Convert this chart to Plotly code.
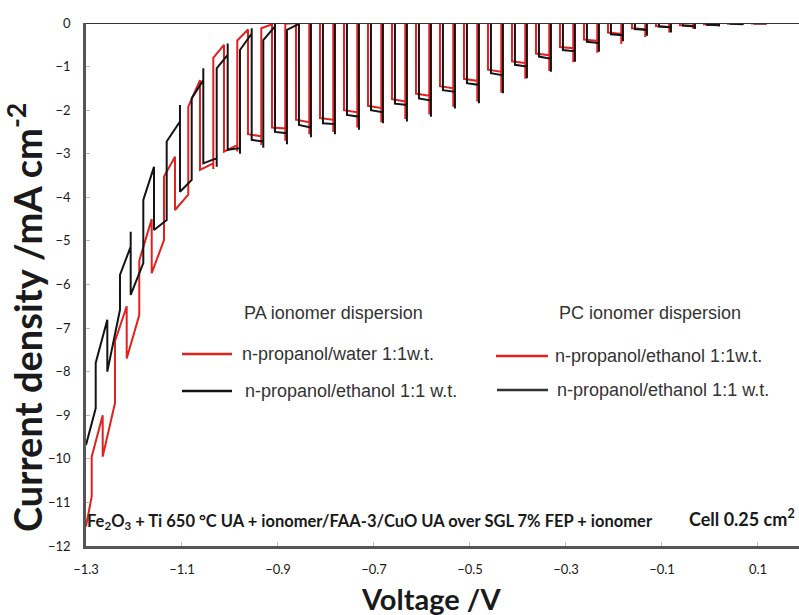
import plotly.graph_objects as go

# ---------------- data ----------------
# Black curve: n-propanol/ethanol 1:1 w.t.
blk_start_v, blk_start_i = -1.30, -9.68
blk_off0_v, blk_off0_le, blk_off0_sp, blk_off0_ds = -1.2798, -8.84, -8.84, -7.80
blk_on_v = [-1.2556, -1.2069, -1.1583, -1.1042, -1.0556, -1.0048, -0.9548, -0.9063, -0.8563, -0.8063,
            -0.7563, -0.7063, -0.6563, -0.6063, -0.5563, -0.5063, -0.4563, -0.4063, -0.3563, -0.3063,
            -0.2563, -0.2063, -0.1563, -0.1063, -0.0563, -0.0063, 0.0438, 0.0938]
blk_off_v = [-1.2292, -1.1806, -1.1319, -1.0798, -1.0277, -0.9792, -0.9306, -0.8813, -0.8313, -0.7813,
             -0.7313, -0.6813, -0.6313, -0.5813, -0.5313, -0.4813, -0.4313, -0.3813, -0.3313, -0.2813,
             -0.2313, -0.1813, -0.1313, -0.0813, -0.0313, 0.0188, 0.0688, 0.1188]
blk_dark_end = [-6.81, -5.13, -3.30, -2.26, -1.31, -0.73, -0.24, -0.08, -0.02, 0, 0, 0, 0, 0, 0, 0, 0, 0, 0, 0,
                0, 0, 0, 0, 0, 0, 0, 0]
blk_dark_spike = [-6.81, -4.79, -3.30, -1.88, -1.04, -0.47, -0.12, -0.02, 0, 0, 0, 0, 0, 0, 0, 0, 0, 0, 0, 0,
                  0, 0, 0, 0, 0, 0, 0, 0]
blk_light_start = [-8.00, -6.24, -4.75, -3.87, -3.22, -2.91, -2.68, -2.50, -2.34, -2.30, -2.11, -2.00, -1.85,
                   -1.73, -1.54, -1.38, -1.15, -0.96, -0.77, -0.62, -0.43, -0.26, -0.14, -0.08, -0.06, -0.04,
                   -0.02, -0.01]
blk_light_end = [-6.58, -5.51, -4.52, -3.60, -3.10, -2.87, -2.72, -2.53, -2.40, -2.32, -2.15, -2.05, -1.88,
                 -1.78, -1.58, -1.42, -1.20, -1.00, -0.82, -0.65, -0.46, -0.28, -0.16, -0.10, -0.08, -0.05,
                 -0.03, -0.01]
blk_light_spike = [-6.58, -5.51, -4.52, -3.60, -3.30, -3.00, -2.86, -2.78, -2.62, -2.55, -2.45, -2.30, -2.26,
                   -2.15, -1.96, -1.84, -1.61, -1.27, -1.12, -0.89, -0.66, -0.42, -0.29, -0.22, -0.14, -0.08,
                   -0.04, -0.02]
blk_dark_start = [-5.78, -4.06, -2.72, -1.73, -1.04, -0.62, -0.39, -0.16, 0, 0, 0, 0, 0, 0, 0, 0, 0, 0, 0, 0,
                  0, 0, 0, 0, 0, 0, 0, 0]
blk_end_v = 0.15

# Red curve: n-propanol/water 1:1 w.t.
red_start_v, red_start_i = -1.30, -11.55
red_off0_v, red_off0_le, red_off0_sp, red_off0_ds = -1.2881, -10.86, -10.86, -9.95
red_on_v = [-1.2652, -1.2152, -1.1631, -1.1146, -1.0625, -1.0125, -0.9625, -0.9125, -0.8625, -0.8125,
            -0.7625, -0.7125, -0.6625, -0.6125, -0.5625, -0.5125, -0.4625, -0.4125, -0.3625, -0.3125,
            -0.2625, -0.2125, -0.1625, -0.1125, -0.0625, -0.0125, 0.0375, 0.0875]
red_off_v = [-1.2396, -1.1890, -1.1375, -1.0869, -1.0348, -0.9848, -0.9348, -0.8848, -0.8348, -0.7848,
             -0.7348, -0.6848, -0.6348, -0.5848, -0.5348, -0.4848, -0.4348, -0.3848, -0.3348, -0.2848,
             -0.2348, -0.1848, -0.1348, -0.0848, -0.0348, 0.0152, 0.0652, 0.1152]
red_dark_end = [-9.00, -6.50, -4.50, -3.07, -1.31, -0.50, -0.15, -0.03, 0, 0, 0, 0, 0, 0, 0, 0, 0, 0, 0, 0,
                0, 0, 0, 0, 0, 0, 0, 0]
red_dark_spike = [-9.00, -6.50, -4.50, -3.07, -1.31, -0.50, -0.15, -0.03, 0, 0, 0, 0, 0, 0, 0, 0, 0, 0, 0, 0,
                  0, 0, 0, 0, 0, 0, 0, 0]
red_light_start = [-9.95, -7.70, -5.74, -4.29, -3.37, -2.95, -2.55, -2.40, -2.22, -2.18, -2.00, -1.90, -1.75,
                   -1.62, -1.45, -1.28, -1.07, -0.88, -0.70, -0.55, -0.38, -0.22, -0.12, -0.07, -0.05, -0.03,
                   -0.02, -0.01]
red_light_end = [-8.72, -6.70, -4.98, -3.94, -3.22, -2.80, -2.60, -2.42, -2.28, -2.22, -2.05, -1.95, -1.80,
                 -1.67, -1.50, -1.33, -1.12, -0.92, -0.74, -0.58, -0.41, -0.25, -0.14, -0.09, -0.06, -0.04,
                 -0.02, -0.01]
red_light_spike = [-8.72, -6.70, -4.98, -3.94, -3.35, -2.95, -2.80, -2.70, -2.55, -2.50, -2.40, -2.28, -2.20,
                   -2.10, -1.92, -1.80, -1.60, -1.28, -1.10, -0.90, -0.68, -0.48, -0.32, -0.22, -0.13, -0.07,
                   -0.03, -0.01]
red_dark_start = [-7.30, -5.45, -3.52, -1.92, -0.80, -0.40, -0.12, -0.02, 0, 0, 0, 0, 0, 0, 0, 0, 0, 0, 0, 0,
                  0, 0, 0, 0, 0, 0, 0, 0]
red_end_v = 0.14

x_ticks = [-1.3, -1.1, -0.9, -0.7, -0.5, -0.3, -0.1, 0.1]
y_ticks = [0, -1, -2, -3, -4, -5, -6, -7, -8, -9, -10, -11, -12]

RED = "#e0221f"
BLACK = "#141414"


def build_path(sv, si, o0v, o0le, o0sp, o0ds, on_v, off_v, de, dsp, ls, le, lsp, ds, end_v):
    xs = [sv, o0v, o0v, o0v]
    ys = [si, o0le, o0sp, o0ds]
    for k in range(len(on_v)):
        xs += [on_v[k], on_v[k], on_v[k], off_v[k], off_v[k], off_v[k]]
        ys += [de[k], dsp[k], ls[k], le[k], lsp[k], ds[k]]
    xs.append(end_v)
    ys.append(0)
    return xs, ys


rx, ry = build_path(red_start_v, red_start_i, red_off0_v, red_off0_le, red_off0_sp, red_off0_ds,
                    red_on_v, red_off_v, red_dark_end, red_dark_spike, red_light_start,
                    red_light_end, red_light_spike, red_dark_start, red_end_v)
bx, by = build_path(blk_start_v, blk_start_i, blk_off0_v, blk_off0_le, blk_off0_sp, blk_off0_ds,
                    blk_on_v, blk_off_v, blk_dark_end, blk_dark_spike, blk_light_start,
                    blk_light_end, blk_light_spike, blk_dark_start, blk_end_v)

fig = go.Figure()
fig.add_trace(go.Scatter(x=rx, y=ry, mode="lines", line=dict(color=RED, width=2),
                         name="n-propanol/water 1:1w.t.", showlegend=False))
fig.add_trace(go.Scatter(x=bx, y=by, mode="lines", line=dict(color=BLACK, width=2),
                         name="n-propanol/ethanol 1:1 w.t.", showlegend=False))

# ---------------- layout ----------------
FW, FH = 799, 615
L, T, W, H = 86, 23, 713, 523


def px2x(p):
    return (p - L) / W


def py2y(p):
    return (T + H - p) / H


bold_font = "Lato, 'Open Sans', sans-serif"
leg_font = dict(family="'Liberation Sans', Arial, sans-serif", size=18, color="#333333")

annotations = [
    dict(text="<b>Voltage /V</b>", x=px2x(431), y=py2y(598), xref="paper", yref="paper",
         showarrow=False, font=dict(family=bold_font, size=29, color="#1a1a1a"),
         xanchor="center", yanchor="middle"),
    dict(text="<b>Current density /mA cm<sup>-2</sup></b>", x=px2x(25), y=py2y(318), xref="paper",
         yref="paper", showarrow=False, textangle=-90,
         font=dict(family=bold_font, size=38, color="#1a1a1a"), xanchor="center", yanchor="middle"),
    dict(text="PA ionomer dispersion", x=px2x(242), y=py2y(313), xref="paper", yref="paper",
         showarrow=False, font=leg_font, xanchor="left", yanchor="middle"),
    dict(text="PC ionomer dispersion", x=px2x(557), y=py2y(313), xref="paper", yref="paper",
         showarrow=False, font=leg_font, xanchor="left", yanchor="middle"),
    dict(text="n-propanol/water 1:1w.t.", x=px2x(240), y=py2y(354), xref="paper", yref="paper",
         showarrow=False, font=leg_font, xanchor="left", yanchor="middle"),
    dict(text="n-propanol/ethanol 1:1 w.t.", x=px2x(243), y=py2y(391), xref="paper", yref="paper",
         showarrow=False, font=leg_font, xanchor="left", yanchor="middle"),
    dict(text="n-propanol/ethanol 1:1w.t.", x=px2x(553), y=py2y(356), xref="paper", yref="paper",
         showarrow=False, font=leg_font, xanchor="left", yanchor="middle"),
    dict(text="n-propanol/ethanol 1:1 w.t.", x=px2x(555), y=py2y(390), xref="paper", yref="paper",
         showarrow=False, font=leg_font, xanchor="left", yanchor="middle"),
    dict(text="<b>Fe<sub>2</sub>O<sub>3</sub> + Ti 650 °C UA + ionomer/FAA-3/CuO UA over SGL 7% FEP + ionomer</b>",
         x=px2x(85), y=py2y(521), xref="paper", yref="paper", showarrow=False,
         font=dict(family=bold_font, size=16.5, color="#1a1a1a"), xanchor="left", yanchor="middle"),
    dict(text="<b>Cell 0.25 cm<sup>2</sup></b>", x=px2x(797), y=py2y(518), xref="paper", yref="paper",
         showarrow=False, font=dict(family=bold_font, size=18, color="#1a1a1a"),
         xanchor="right", yanchor="middle"),
]

shapes = [
    dict(type="line", xref="paper", yref="y", x0=0, x1=1, y0=0, y1=0,
         line=dict(color="#333333", width=2)),
    dict(type="line", xref="paper", yref="paper", x0=px2x(182), x1=px2x(232), y0=py2y(354), y1=py2y(354),
         line=dict(color=RED, width=2.5)),
    dict(type="line", xref="paper", yref="paper", x0=px2x(182), x1=px2x(232), y0=py2y(391), y1=py2y(391),
         line=dict(color=BLACK, width=2.5)),
    dict(type="line", xref="paper", yref="paper", x0=px2x(496), x1=px2x(548), y0=py2y(356), y1=py2y(356),
         line=dict(color=RED, width=2.5)),
    dict(type="line", xref="paper", yref="paper", x0=px2x(497), x1=px2x(548), y0=py2y(390), y1=py2y(390),
         line=dict(color="#333333", width=2.5)),
]

tick_font = dict(family=bold_font, size=13, color="#1a1a1a")

fig.update_layout(
    width=FW, height=FH,
    margin=dict(l=L, r=FW - L - W, t=T, b=FH - T - H),
    paper_bgcolor="white", plot_bgcolor="white",
    showlegend=False,
    annotations=annotations,
    shapes=shapes,
    xaxis=dict(range=[-1.3, 0.1855], tickvals=x_ticks, tickformat=".1f", ticks="inside", ticklen=4,
               tickcolor="#bbbbbb", showline=True, linecolor="#555555", linewidth=2.5, showgrid=False,
               zeroline=False, tickfont=tick_font, ticklabelstandoff=10),
    yaxis=dict(range=[-12, 0], tickvals=y_ticks, ticks="inside", ticklen=4, tickcolor="#bbbbbb",
               showline=True, linecolor="#555555", linewidth=2.5, showgrid=False, zeroline=False,
               tickfont=tick_font, ticklabelstandoff=10),
)

fig.write_html("out.html", config={"displayModeBar": False},
               post_script="document.body.style.margin='0';document.body.style.overflow='hidden';")
